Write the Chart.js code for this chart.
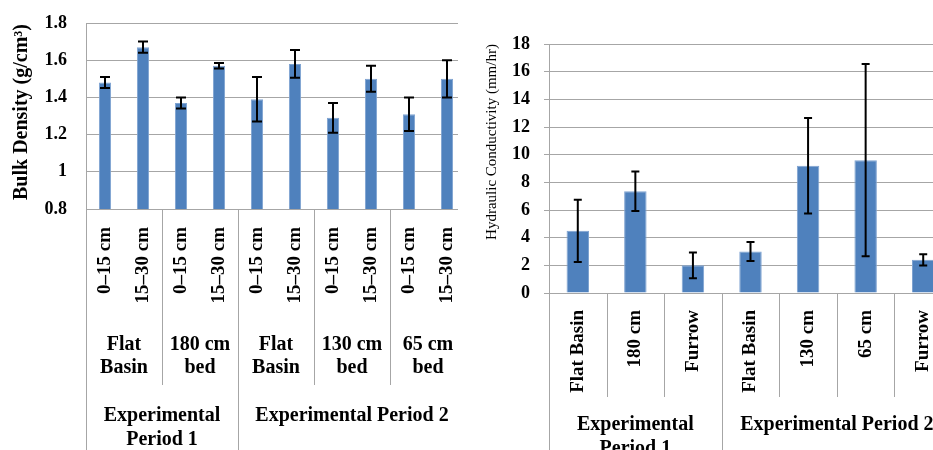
<!DOCTYPE html>
<html>
<head>
<meta charset="utf-8">
<script src="https://cdn.jsdelivr.net/npm/chart.js@4.4.1/dist/chart.umd.min.js"></script>
<style>
  html, body { margin: 0; padding: 0; background: #fff; overflow: hidden; }
  body { width: 933px; height: 450px; position: relative; }
  .panel { position: absolute; top: 0; height: 450px; overflow: hidden; }
  #left { left: 0; width: 458px; }
  #right { left: 470px; width: 463px; }
  canvas { display: block; }
</style>
</head>
<body>
<div class="panel" id="left"><canvas id="bulkChart" width="466" height="450"></canvas></div>
<div class="panel" id="right"><canvas id="condChart" width="482" height="450"></canvas></div>
<script>
// Bulk density (left chart)
const bdDepths = ["0–15 cm", "15–30 cm", "0–15 cm", "15–30 cm", "0–15 cm", "15–30 cm", "0–15 cm", "15–30 cm", "0–15 cm", "15–30 cm"];
const bdMeans = [1.48, 1.67, 1.37, 1.57, 1.39, 1.58, 1.29, 1.50, 1.31, 1.50];
const bdErrors = [0.03, 0.03, 0.03, 0.015, 0.12, 0.075, 0.08, 0.07, 0.09, 0.10];
const bdTreatments = ["Flat\nBasin", "180 cm\nbed", "Flat\nBasin", "130 cm\nbed", "65 cm\nbed"];
const bdTreatmentSpans = [2, 2, 2, 2, 2];
const bdPeriods = ["Experimental\nPeriod 1", "Experimental Period 2"];
const bdPeriodSpans = [4, 6];

// Hydraulic conductivity (right chart)
const hcTreatments = ["Flat Basin", "180 cm", "Furrow", "Flat Basin", "130 cm", "65 cm", "Furrow"];
const hcMeans = [4.5, 7.35, 2.0, 3.0, 9.2, 9.6, 2.4];
const hcErrors = [2.25, 1.43, 0.93, 0.68, 3.45, 6.95, 0.41];
const hcLeafSpans = [1, 1, 1, 1, 1, 1, 1];
const hcPeriods = ["Experimental\nPeriod 1", "Experimental Period 2"];
const hcPeriodSpans = [3, 4];

const SERIF = '"Liberation Serif", "Times New Roman", serif';
const BAR = "#4F81BD";
const GRID = "#A6A6A6";

// error bars drawn on top of the bars
const errorBars = {
  id: "errorBars",
  afterDatasetsDraw(chart, args, opts) {
    const { ctx } = chart;
    const y = chart.scales.y;
    const values = chart.data.datasets[0].data;
    ctx.save();
    ctx.strokeStyle = "#000";
    ctx.lineWidth = 2;
    chart.getDatasetMeta(0).data.forEach((bar, i) => {
      const top = y.getPixelForValue(values[i] + opts.errors[i]);
      const bot = y.getPixelForValue(values[i] - opts.errors[i]);
      ctx.beginPath();
      ctx.moveTo(bar.x, top); ctx.lineTo(bar.x, bot);
      ctx.moveTo(bar.x - opts.cap, top); ctx.lineTo(bar.x + opts.cap, top);
      ctx.moveTo(bar.x - opts.cap, bot); ctx.lineTo(bar.x + opts.cap, bot);
      ctx.stroke();
    });
    ctx.restore();
  }
};

// grouped category labels + divider lines under the x axis
const groupAxis = {
  id: "groupAxis",
  afterDraw(chart, args, opts) {
    const { ctx, chartArea } = chart;
    const x = chart.scales.x;
    ctx.save();
    ctx.strokeStyle = GRID;
    ctx.lineWidth = 1;
    // left edge of the axis
    ctx.beginPath();
    ctx.moveTo(Math.round(chartArea.left) + 0.5, chartArea.bottom);
    ctx.lineTo(Math.round(chartArea.left) + 0.5, opts.edgeEnd);
    ctx.stroke();
    opts.levels.forEach(level => {
      let start = 0;
      level.spans.forEach((span, k) => {
        const x0 = x.getPixelForValue(start - 0.5);
        const x1 = x.getPixelForValue(start + span - 0.5);
        if (k < level.spans.length - 1) {
          ctx.beginPath();
          ctx.moveTo(Math.round(x1) + 0.5, chartArea.bottom);
          ctx.lineTo(Math.round(x1) + 0.5, level.lineEnd);
          ctx.stroke();
        }
        if (level.labels) {
          ctx.fillStyle = "#000";
          ctx.font = opts.font;
          ctx.textAlign = "center";
          ctx.textBaseline = "middle";
          level.labels[k].split("\n").forEach((line, j) => {
            ctx.fillText(line, (x0 + x1) / 2, level.textY[j]);
          });
        }
        start += span;
      });
    });
    ctx.restore();
  }
};

// rotated y axis title at a fixed place
const yTitle = {
  id: "yTitle",
  afterDraw(chart, args, opts) {
    const { ctx } = chart;
    ctx.save();
    ctx.translate(opts.x, opts.y);
    ctx.rotate(-Math.PI / 2);
    ctx.font = opts.font;
    ctx.fillStyle = "#000";
    ctx.textAlign = "center";
    ctx.textBaseline = "middle";
    ctx.fillText(opts.text, 0, 0);
    ctx.restore();
  }
};

function barChart(id, cfg) {
  return new Chart(document.getElementById(id), {
    type: "bar",
    data: {
      labels: cfg.labels,
      datasets: [{
        data: cfg.values,
        backgroundColor: BAR,
        borderColor: "#7FA3D1",
        borderWidth: 1,
        categoryPercentage: 1,
        barPercentage: cfg.barPct
      }]
    },
    options: {
      responsive: false,
      animation: false,
      layout: { padding: { top: cfg.top, left: 0, right: 0, bottom: 0 } },
      plugins: {
        legend: { display: false },
        tooltip: { enabled: false },
        errorBars: { errors: cfg.errors, cap: cfg.cap },
        groupAxis: cfg.groups,
        yTitle: cfg.title
      },
      scales: {
        x: {
          grid: { display: false, drawTicks: false },
          border: { display: true, color: GRID },
          ticks: {
            autoSkip: false,
            maxRotation: 90,
            minRotation: 90,
            padding: cfg.xPad,
            color: "#000",
            font: { family: SERIF, size: 19, weight: "bold" }
          },
          afterFit: s => {
            s.height = cfg.xHeight;
            s.paddingLeft = 0;
            s.paddingRight = 0;
          }
        },
        y: {
          min: cfg.min,
          max: cfg.max,
          grid: { color: GRID, drawTicks: cfg.yTick > 0, tickLength: cfg.yTick },
          border: { display: true, color: GRID },
          ticks: {
            stepSize: cfg.step,
            padding: cfg.yPad,
            color: "#000",
            font: { family: SERIF, size: 18, weight: "bold" },
            callback: v => String(Number(v.toFixed(1)))
          },
          afterFit: s => {
            s.width = cfg.yWidth;
            s.paddingTop = 0;
            s.paddingBottom = 0;
          }
        }
      }
    },
    plugins: [errorBars, groupAxis, yTitle]
  });
}

barChart("bulkChart", {
  labels: bdDepths,
  values: bdMeans,
  errors: bdErrors,
  min: 0.8, max: 1.8, step: 0.2,
  barPct: 0.32, cap: 5,
  top: 23, yWidth: 86, xHeight: 241, xPad: 18, yPad: 19, yTick: 0,
  title: { text: "Bulk Density (g/cm³)", x: 22, y: 112, font: "bold 20px " + SERIF },
  groups: {
    font: "bold 20px " + SERIF,
    edgeEnd: 450,
    levels: [
      { labels: bdTreatments, spans: bdTreatmentSpans, lineEnd: 385, textY: [345, 368] },
      { labels: bdPeriods, spans: bdPeriodSpans, lineEnd: 450, textY: [416, 440] }
    ]
  }
});

barChart("condChart", {
  labels: hcTreatments,
  values: hcMeans,
  errors: hcErrors,
  min: 0, max: 18, step: 2,
  barPct: 0.39, cap: 4,
  top: 44, yWidth: 79, xHeight: 157, xPad: 17, yPad: 14, yTick: 5,
  title: { text: "Hydraulic Conductivity (mm/hr)", x: 22, y: 142, font: "15px " + SERIF },
  groups: {
    font: "bold 20px " + SERIF,
    edgeEnd: 450,
    levels: [
      { labels: null, spans: hcLeafSpans, lineEnd: 397 },
      { labels: hcPeriods, spans: hcPeriodSpans, lineEnd: 450, textY: [425, 449] }
    ]
  }
});
</script>
</body>
</html>
